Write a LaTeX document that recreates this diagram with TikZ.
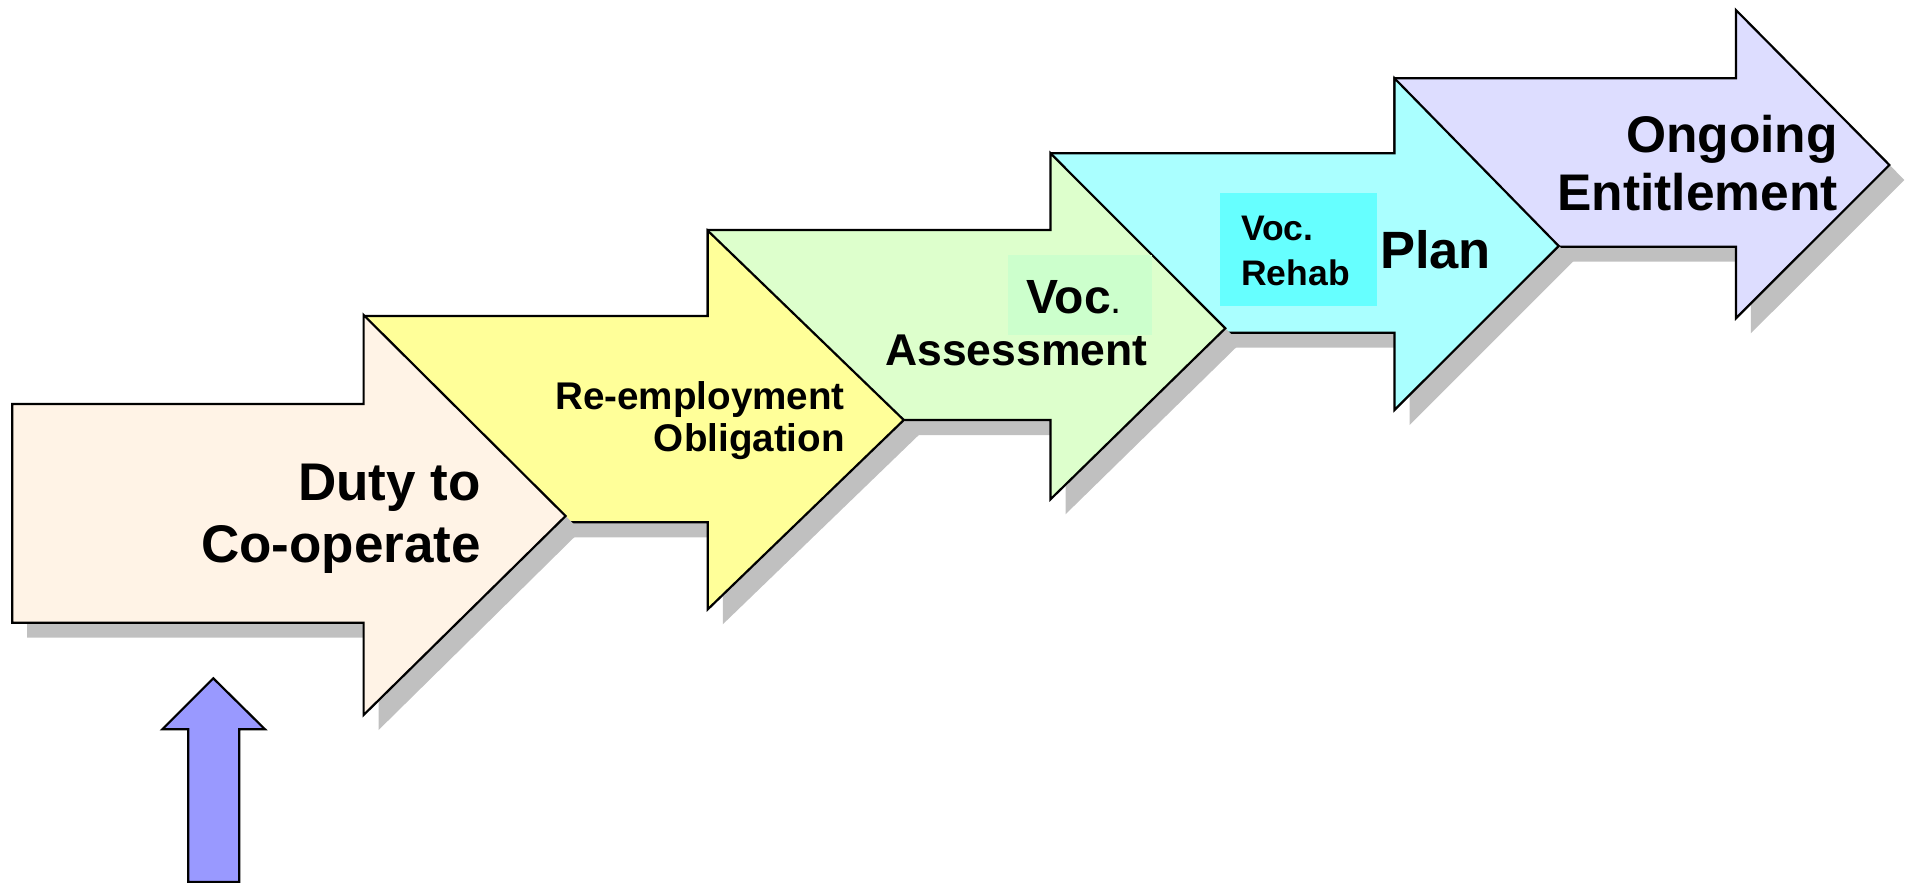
\documentclass[tikz,border=0pt]{standalone}
\usepackage{fontspec}
\setmainfont{Liberation Sans}
\usetikzlibrary{positioning}
\definecolor{StageOne}{HTML}{FFF3E6}
\definecolor{StageTwo}{HTML}{FFFF99}
\definecolor{StageThree}{HTML}{DDFFCC}
\definecolor{StageFour}{HTML}{AAFFFF}
\definecolor{StageFive}{HTML}{DDDDFF}
\definecolor{VocBoxGreen}{HTML}{CCFFCC}
\definecolor{RehabBoxCyan}{HTML}{66FFFF}
\definecolor{PushBlue}{HTML}{9999FF}
\definecolor{ShadowGrey}{HTML}{C0C0C0}
\newcommand{\stagesize}[2]{\fontsize{#1}{#2}\selectfont\bfseries}
\tikzset{stage layout/.style={%
    x=1pt,%
    y=-1pt,%
    every node/.style={%
        inner sep=0pt, font=\bfseries
    },%
}}
\tikzset{stage outline/.style={%
    draw=black, line width=2.2pt, line join=miter
}}
\tikzset{stage shadow/.style={%
    fill=ShadowGrey, shift={(15,15)}
}}

\begin{document}
\begin{tikzpicture}[stage layout]
    \useasboundingbox (0,0) rectangle (1912,883);

    % steps, drawn from the last one back to the first
    \foreach \xl/\ya/\yb/\xh/\yc/\yd/\xt/\yt/\fillcol in {
        1394.5/78.3/246.7/1735.9/10/318.3/1889.4/165/StageFive,
        1051.4/153.3/332.7/1394.5/78.3/410/1558.7/246/StageFour,
        707.6/230/420/1050.5/153.3/499.3/1225.3/328.3/StageThree,
        364.5/316/522.3/707.8/230.7/609.3/903.8/420/StageTwo,
        12.2/404/622.7/363.6/315/715/565.6/516/StageOne} {
        \fill[stage shadow] (\xl,\ya) -- (\xh,\ya) -- (\xh,\yc) -- (\xt,\yt)
            -- (\xh,\yd) -- (\xh,\yb) -- (\xl,\yb) -- cycle;
        \draw[stage outline, fill=\fillcol] (\xl,\ya) -- (\xh,\ya) -- (\xh,\yc)
            -- (\xt,\yt) -- (\xh,\yd) -- (\xh,\yb) -- (\xl,\yb) -- cycle;
    }

    % small arrow pushing up into the first step
    \draw[stage outline, fill=PushBlue] (188.3,882) -- (188.3,729.3) -- (162.3,729.3)
        -- (213.3,678.3) -- (265,729.3) -- (239.3,729.3) -- (239.3,882) -- cycle;

    \node[anchor=base east, align=right, font=\stagesize{53}{62}] (duty) at (481,562) {Duty to\\Co-operate};
    \node[anchor=base east, align=right, font=\stagesize{38.6}{42}] (reemploy) at (845,451) {Re-employment\\Obligation};

    \node[fill=VocBoxGreen, minimum width=144pt, minimum height=80pt, anchor=north west] (assessbox) at (1008,255) {};
    \node[anchor=base west, font=\stagesize{48}{50}] (voc) at (1026,313) {Voc{\mdseries\fontsize{40}{40}\selectfont.}};
    \node[anchor=base west, font=\stagesize{44.5}{50}] (assess) at (885,365) {Assessment};

    \node[fill=RehabBoxCyan, minimum width=157pt, minimum height=113pt, anchor=north west] (rehabbox) at (1220,193) {};
    \node[anchor=base west, align=left, font=\stagesize{35.5}{45}] (rehab) at (1241,285) {Voc.\\Rehab};
    \node[right=2.5pt of rehabbox, font=\stagesize{52.5}{56}] (plan) {Plan};

    \node[anchor=base east, align=right, font=\stagesize{51.5}{58}] (ongoing) at (1838,210) {Ongoing\\Entitlement};
\end{tikzpicture}
\end{document}
